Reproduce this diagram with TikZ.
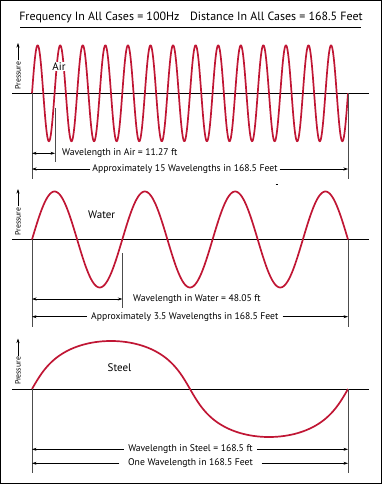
\documentclass[tikz,border=0pt]{standalone}
\usepackage{fontspec}
\setmainfont{PT Sans}
\usepackage{tikz}
\usetikzlibrary{arrows.meta, positioning}
\usepackage{xcolor}
\definecolor{wavered}{RGB}{192,22,52}

\begin{document}
\begin{tikzpicture}[x=1bp,y=-1bp,>={Stealth[length=4.5bp,width=3bp]}]
  \tikzstyle{wave}=[wavered, line width=1.7bp, line join=round]
  \tikzstyle{axis}=[black, line width=0.8bp]
  \tikzstyle{ext}=[black!70, line width=0.5bp]
  \tikzstyle{dim}=[black, line width=0.6bp]
  \tikzstyle{note}=[font=\fontsize{9.7}{11}\selectfont, inner sep=2bp]
  \tikzstyle{medium}=[font=\fontsize{11}{12}\selectfont, fill=white, inner sep=0.5bp]
  \tikzstyle{pressure}=[font=\fontsize{7.8}{9}\selectfont, rotate=90, inner sep=1bp]

  \useasboundingbox (0,0) rectangle (382,484);
  \draw[line width=1.3bp] (0.65,0.65) rectangle (381.35,483.35);

  % title
  \node[font=\fontsize{12}{14}\selectfont] (title) at (191,17)
    {Frequency In All Cases = 100Hz\hspace{0.9em}Distance In All Cases = 168.5 Feet};
  \draw[axis] (20,27.5) -- (361,27.5);

  % air
  \coordinate (airL) at (32,93.3);
  \coordinate (airR) at (348,93.3);
  \coordinate (airLb) at (32,179);
  \coordinate (airRb) at (348,179);
  \coordinate (airT) at (55,108);
  \coordinate (airTb) at (55,162);
  \draw[axis] (12,93.3) -- (369,93.3);
  \draw[wave] plot[domain=0:5040, samples=700, smooth, variable=\t] ({32+\t/360*22.571}, {93.3-48*sin(\t)});
  \node[medium] (air) at (59,66.5) {Air};
  \node[pressure] (pair) at (18,75.5) {Pressure};
  \coordinate (pairtip) at (18,43);
  \draw[dim,->] (pair.east) -- (pairtip);
  \draw[ext] (airL) -- (airLb);
  \draw[ext] (airR) -- (airRb);
  \draw[ext] (airT) -- (airTb);
  \node[note, anchor=west] (airlen) at (60,153.3) {Wavelength in Air = 11.27 ft};
  \node[note] (airall) at (185,169) {Approximately 15 Wavelengths in 168.5 Feet};
  \draw[dim,<->] (airL |- airlen) -- (airT |- airlen);
  \draw[dim,->] (airall.west) -- (airL |- airall);
  \draw[dim,->] (airall.east) -- (airR |- airall);
  \draw[black, line width=0.8bp] (275.5,184.5) -- (278,184.5);

  % water
  \coordinate (watL) at (32,239.5);
  \coordinate (watR) at (348,239.5);
  \coordinate (watLb) at (32,327);
  \coordinate (watRb) at (348,327);
  \coordinate (watT) at (122.3,253);
  \coordinate (watTb) at (122.3,308);
  \draw[axis] (12,239.5) -- (369,239.5);
  \draw[wave] plot[domain=0:1260, samples=300, smooth, variable=\t] ({32+\t/360*90.286}, {239.5-48*sin(\t)});
  \node[medium] (water) at (101.7,215) {Water};
  \node[pressure] (pwat) at (18,221.5) {Pressure};
  \coordinate (pwattip) at (18,189);
  \draw[dim,->] (pwat.east) -- (pwattip);
  \draw[ext] (watL) -- (watLb);
  \draw[ext] (watR) -- (watRb);
  \draw[ext] (watT) -- (watTb);
  \node[note, anchor=west] (watlen) at (131,299) {Wavelength in Water = 48.05 ft};
  \node[note, inner xsep=4bp] (watall) at (184.8,316.7) {Approximately 3.5 Wavelengths in 168.5 Feet};
  \draw[dim,<->] (watL |- watlen) -- (watT |- watlen);
  \draw[dim,->] (watall.west) -- (watL |- watall);
  \draw[dim,->] (watall.east) -- (watR |- watall);

  % steel
  \coordinate (stL) at (32,389);
  \coordinate (stR) at (348,389);
  \coordinate (stLb) at (32,473);
  \coordinate (stRb) at (348,473);
  \draw[axis] (12,389) -- (369,389);
  \draw[wave] plot[domain=0:360, samples=300, smooth, variable=\t]
    ({32+0.87778*(\t-12.892*sin(2*\t))}, {389-48*sin(\t)});
  \node[medium] (steel) at (119.5,367.7) {Steel};
  \node[pressure] (pst) at (18,371) {Pressure};
  \coordinate (psttip) at (18,338.5);
  \draw[dim,->] (pst.east) -- (psttip);
  \draw[ext] (stL) -- (stLb);
  \draw[ext] (stR) -- (stRb);
  \node[note, inner xsep=4.5bp] (stlen) at (190.5,449.3) {Wavelength in Steel = 168.5 ft};
  \node[note, inner xsep=8.5bp] (stall) at (190.5,463.3) {One Wavelength in 168.5 Feet};
  \draw[dim,->] (stlen.west) -- (stL |- stlen);
  \draw[dim,->] (stlen.east) -- (stR |- stlen);
  \draw[dim,->] (stall.west) -- (stL |- stall);
  \draw[dim,->] (stall.east) -- (stR |- stall);
\end{tikzpicture}
\end{document}
